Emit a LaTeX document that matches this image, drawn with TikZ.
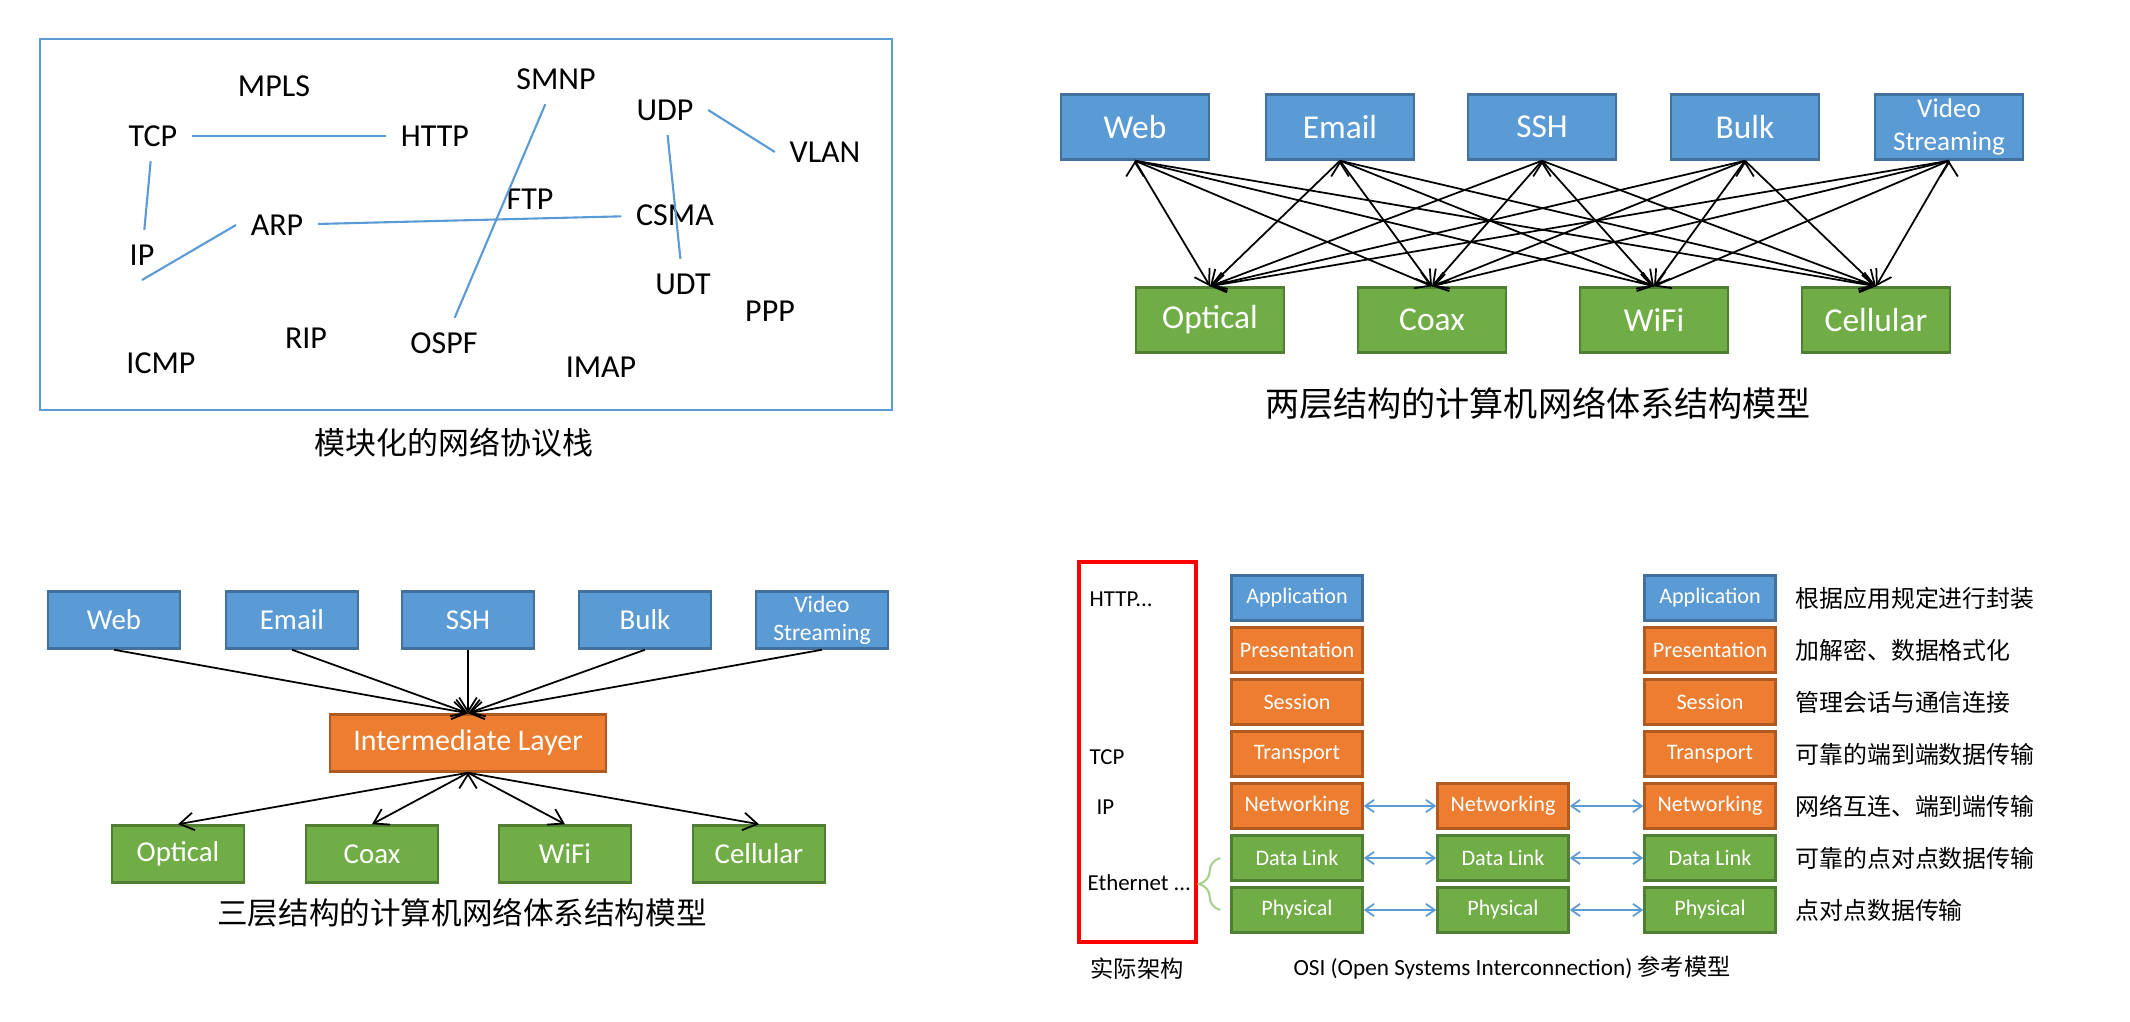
\documentclass[tikz,border=0pt]{standalone}
\usepackage{fontspec}
\setmainfont{Carlito}
\newfontfamily\cjk{Noto Sans CJK SC}
\usepackage{tikz}
\usetikzlibrary{arrows.meta, decorations.pathreplacing, calc}
\definecolor{celeste}{HTML}{5B9BD5}
\definecolor{celesteScuro}{HTML}{41719C}
\definecolor{arancio}{HTML}{ED7D31}
\definecolor{arancioScuro}{HTML}{AE5A21}
\definecolor{verde}{HTML}{70AD47}
\definecolor{verdeScuro}{HTML}{507E32}
\definecolor{verdeChiaro}{HTML}{A9D18E}

\begin{document}
\begin{tikzpicture}[x=0.01cm, y=-0.01cm,
    proto/.style={inner sep=4pt, font=\fontsize{9.1}{11}\selectfont},
    legame/.style={celeste, line width=0.6pt},
    didascalia/.style={font=\cjk\fontsize{#1}{#1}\selectfont},
    scatola/.style={draw=#1Scuro, fill=#1, line width=0.7pt, text=white, inner sep=1pt, align=center},
    box2/.style={scatola=#1, minimum width=1.48cm, minimum height=0.65cm, font=\fontsize{9.5}{11.4}\selectfont},
    box3/.style={scatola=#1, minimum width=1.32cm, minimum height=0.57cm, font=\fontsize{8.2}{9.8}\selectfont},
    box4/.style={scatola=#1, minimum width=1.31cm, minimum height=0.45cm, font=\fontsize{6.3}{7.5}\selectfont},
    freccia/.style={-{Straight Barb[length=4pt, width=5pt]}, line width=0.5pt},
    doppia/.style={{Straight Barb[length=2.5pt, width=3.5pt]}-{Straight Barb[length=2.5pt, width=3.5pt]}, celeste, line width=0.5pt},
    nota/.style={anchor=west, inner sep=0pt, font=\fontsize{6.5}{7.8}\selectfont},
    spiega/.style={anchor=west, font=\cjk\fontsize{6.8}{8}\selectfont}]
    \useasboundingbox (0,0) rectangle (2130,1022);
    % Parametri
    \pgfmathsetmacro{\cuno}{1297}
    \pgfmathsetmacro{\cdue}{1503}
    \pgfmathsetmacro{\ctre}{1710}
    % Pila modulare
    \draw[celeste, line width=0.6pt] (40,39) rectangle (892,410);
    \node[proto] (mpls) at (274,86) {MPLS};
    \node[proto] (smnp) at (556,79) {SMNP};
    \node[proto] (udp) at (665,110) {UDP};
    \node[proto] (tcp) at (153,136) {TCP};
    \node[proto] (http) at (435,136) {HTTP};
    \node[proto] (vlan) at (825,152) {VLAN};
    \node[proto] (ftp) at (530,199) {FTP};
    \node[proto] (csma) at (675,215) {CSMA};
    \node[proto] (arp) at (277,225) {ARP};
    \node[proto] (ip) at (142,255) {IP};
    \node[proto] (udt) at (683,284) {UDT};
    \node[proto] (ppp) at (770,311) {PPP};
    \node[proto] (rip) at (306,338) {RIP};
    \node[proto] (ospf) at (444,343) {OSPF};
    \node[proto] (icmp) at (161,363) {ICMP};
    \node[proto] (imap) at (601,367) {IMAP};
    \draw[legame] (tcp) -- (http);
    \draw[legame] (tcp) -- (ip);
    \draw[legame] (ip.south) -- (arp.west);
    \draw[legame] (arp) -- (csma);
    \draw[legame] (smnp) -- (ospf);
    \draw[legame] (udp) -- (udt);
    \draw[legame] (udp.east) -- (vlan.west);
    \node[didascalia=8.8] (cap1) at (454,443) {模块化的网络协议栈};
    % Due livelli
    \node[box2=celeste] (web2) at (1135,127) {Web};
    \node[box2=celeste] (email2) at (1340,127) {Email};
    \node[box2=celeste] (ssh2) at (1542,127) {SSH};
    \node[box2=celeste] (bulk2) at (1745,127) {Bulk};
    \node[box2=celeste, font=\fontsize{7.7}{9.2}\selectfont] (video2) at (1949,127) {Video\\Streaming};
    \node[box2=verde] (opt2) at (1210,320) {Optical};
    \node[box2=verde] (coax2) at (1432,320) {Coax};
    \node[box2=verde] (wifi2) at (1654,320) {WiFi};
    \node[box2=verde] (cell2) at (1876,320) {Cellular};
    \draw[freccia] (web2.south) edge (opt2.north) edge (coax2.north) edge (wifi2.north) edge (cell2.north);
    \draw[freccia] (email2.south) edge (opt2.north) edge (coax2.north) edge (wifi2.north) edge (cell2.north);
    \draw[freccia] (ssh2.south) edge (opt2.north) edge (coax2.north) edge (wifi2.north) edge (cell2.north);
    \draw[freccia] (bulk2.south) edge (opt2.north) edge (coax2.north) edge (wifi2.north) edge (cell2.north);
    \draw[freccia] (video2.south) edge (opt2.north) edge (coax2.north) edge (wifi2.north) edge (cell2.north);
    \node[didascalia=9.7] (cap2) at (1538,403) {两层结构的计算机网络体系结构模型};
    % Tre livelli
    \node[box3=celeste] (web3) at (114,620) {Web};
    \node[box3=celeste] (email3) at (292,620) {Email};
    \node[box3=celeste] (ssh3) at (468,620) {SSH};
    \node[box3=celeste] (bulk3) at (645,620) {Bulk};
    \node[box3=celeste, font=\fontsize{6.7}{8}\selectfont] (video3) at (822,620) {Video\\Streaming};
    \node[box3=arancio, minimum width=2.76cm, font=\fontsize{8.5}{10}\selectfont] (inter3) at (468,743) {Intermediate Layer};
    \node[box3=verde] (opt3) at (178,854) {Optical};
    \node[box3=verde] (coax3) at (372,854) {Coax};
    \node[box3=verde] (wifi3) at (565,854) {WiFi};
    \node[box3=verde] (cell3) at (759,854) {Cellular};
    \draw[freccia] (web3.south) -- (inter3.north);
    \draw[freccia] (email3.south) -- (inter3.north);
    \draw[freccia] (ssh3.south) -- (inter3.north);
    \draw[freccia] (bulk3.south) -- (inter3.north);
    \draw[freccia] (video3.south) -- (inter3.north);
    \draw[freccia] (inter3.south) edge (opt3.north) edge (coax3.north) edge (wifi3.north) edge (cell3.north);
    \node[didascalia=8.7] (cap3) at (462,913) {三层结构的计算机网络体系结构模型};
    % Modello OSI
    \draw[red, line width=1.1pt] (1079,562) rectangle (1196,942);
    \node[nota] (lhttp) at (1089,599) {HTTP...};
    \node[nota] (ltcp) at (1089,757) {TCP};
    \node[nota] (lip) at (1096,807) {IP};
    \node[nota] (leth) at (1087,883) {Ethernet ...};
    \node[box4=celeste] (app1) at (\cuno,598) {Application};
    \node[box4=arancio] (pres1) at (\cuno,650) {Presentation};
    \node[box4=arancio] (ses1) at (\cuno,702) {Session};
    \node[box4=arancio] (tra1) at (\cuno,754) {Transport};
    \node[box4=arancio] (net1) at (\cuno,806) {Networking};
    \node[box4=verde] (dl1) at (\cuno,858) {Data Link};
    \node[box4=verde] (phy1) at (\cuno,910) {Physical};
    \node[box4=arancio] (net2) at (\cdue,806) {Networking};
    \node[box4=verde] (dl2) at (\cdue,858) {Data Link};
    \node[box4=verde] (phy2) at (\cdue,910) {Physical};
    \node[box4=celeste] (app3) at (\ctre,598) {Application};
    \node[box4=arancio] (pres3) at (\ctre,650) {Presentation};
    \node[box4=arancio] (ses3) at (\ctre,702) {Session};
    \node[box4=arancio] (tra3) at (\ctre,754) {Transport};
    \node[box4=arancio] (net3) at (\ctre,806) {Networking};
    \node[box4=verde] (dl3) at (\ctre,858) {Data Link};
    \node[box4=verde] (phy3) at (\ctre,910) {Physical};
    \draw[doppia] (net1) -- (net2);
    \draw[doppia] (net2) -- (net3);
    \draw[doppia] (dl1) -- (dl2);
    \draw[doppia] (dl2) -- (dl3);
    \draw[doppia] (phy1) -- (phy2);
    \draw[doppia] (phy2) -- (phy3);
    \draw[verdeChiaro, line width=0.6pt, decorate, decoration={brace, amplitude=6pt}] ($(phy1.west)+(-10,0)$) -- ($(dl1.west)+(-10,0)$);
    \node[spiega] (sapp) at (1783,598) {根据应用规定进行封装};
    \node[spiega] (spres) at (1783,650) {加解密、数据格式化};
    \node[spiega] (sses) at (1783,702) {管理会话与通信连接};
    \node[spiega] (stra) at (1783,754) {可靠的端到端数据传输};
    \node[spiega] (snet) at (1783,806) {网络互连、端到端传输};
    \node[spiega] (sdl) at (1783,858) {可靠的点对点数据传输};
    \node[spiega] (sphy) at (1783,910) {点对点数据传输};
    \node[didascalia=6.6] (cap4a) at (1137,969) {实际架构};
    \node[font=\fontsize{6.6}{8}\selectfont] (cap4b) at (1512,968) {OSI (Open Systems Interconnection) {\cjk 参考模型}};
\end{tikzpicture}
\end{document}
